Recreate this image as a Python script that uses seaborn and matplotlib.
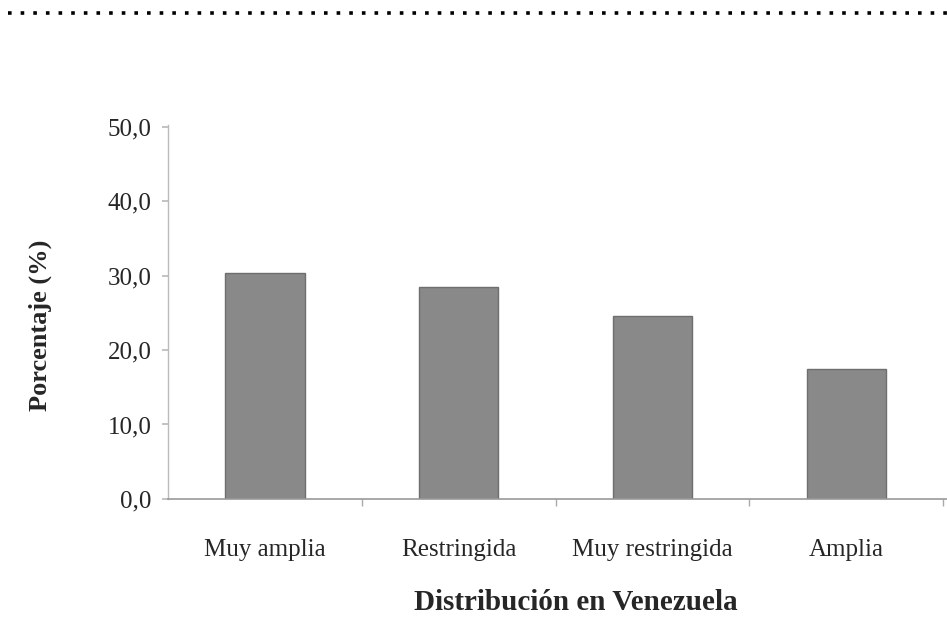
import matplotlib
matplotlib.use("Agg")
import matplotlib.pyplot as plt
import matplotlib.lines as mlines
import seaborn as sns
import pandas as pd

# Data
categorias = ["Muy amplia", "Restringida", "Muy restringida", "Amplia"]
porcentajes = [30.4, 28.4, 24.6, 17.5]
yticks = [0, 10, 20, 30, 40, 50]
ytick_labels = ["0,0", "10,0", "20,0", "30,0", "40,0", "50,0"]

sns.set_theme(style="white")
plt.rcParams["font.family"] = ["Liberation Serif", "DejaVu Serif"]

df = pd.DataFrame({"categoria": categorias, "porcentaje": porcentajes})

fig = plt.figure(figsize=(9.47, 6.19), dpi=100)
ax = fig.add_axes([0.1774, 0.1939, 0.8226, 0.604])

sns.barplot(data=df, x="categoria", y="porcentaje", ax=ax,
            color="#898989", width=0.41, saturation=1,
            edgecolor="#6e6e6e", linewidth=1)

ax.set_ylim(0, 50.2)
ax.set_xlim(-0.5, 3.52)
ax.set_yticks(yticks)
ax.set_yticklabels(ytick_labels, fontsize=18)
# small ticks between the categories
ax.set_xticks([0.5, 1.5, 2.5, 3.5], minor=True)
ax.tick_params(axis="x", which="major", labelsize=18, length=0, pad=29)
ax.tick_params(axis="x", which="minor", length=5, color="#aaaaaa", bottom=True)
ax.tick_params(axis="y", length=4, color="#bbbbbb", left=True, pad=8)

ax.set_xlabel("Distribución en Venezuela", fontsize=21, fontweight="bold", va="baseline")
ax.set_ylabel("Porcentaje (%)", fontsize=19, fontweight="bold")
ax.xaxis.set_label_coords(0.524, -0.298)
ax.yaxis.set_label_coords(-0.149, 0.465)

sns.despine(ax=ax, top=True, right=True)
ax.spines["left"].set_color("#bbbbbb")
ax.spines["bottom"].set_color("#999999")
ax.spines["left"].set_linewidth(1)
ax.spines["bottom"].set_linewidth(1.2)

# dotted rule at the top of the page
fig.add_artist(mlines.Line2D([0.008, 1.0], [0.979, 0.979], transform=fig.transFigure,
                             color="black", linewidth=2.6, linestyle=(0, (1, 2.5))))

fig.savefig("out.png", dpi=100)
